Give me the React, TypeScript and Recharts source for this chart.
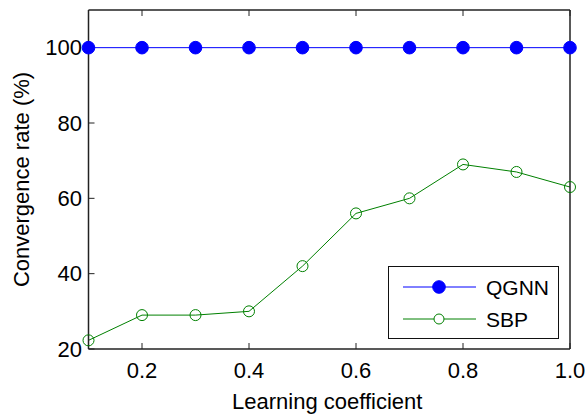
import React from 'react';
import { LineChart, Line, XAxis, YAxis, Legend } from 'recharts';

const coefficients = [0.1, 0.2, 0.3, 0.4, 0.5, 0.6, 0.7, 0.8, 0.9, 1.0];
const qgnnRates = [100, 100, 100, 100, 100, 100, 100, 100, 100, 100];
const sbpRates = [22.3, 29, 29, 30, 42, 56, 60, 69, 67, 63];
const xTicks = [0.2, 0.4, 0.6, 0.8, 1.0];
const yTicks = [20, 40, 60, 80, 100];

const data = coefficients.map((c, i) => ({ c, QGNN: qgnnRates[i], SBP: sbpRates[i] }));

const FONT = '"Liberation Sans", Arial, Helvetica, sans-serif';
const AX = '#222222';
const BLUE = '#0000ff';
const GREEN = '#008000';
const FS = 22;

const LegendBox = () => (
  <div
    style={{
      width: 171,
      height: 73,
      border: '1.5px solid #111',
      boxSizing: 'border-box',
      background: '#fff',
      position: 'relative',
      fontFamily: FONT,
    }}
  >
    <svg width={168} height={70} style={{ position: 'absolute', left: 0, top: 0 }}>
      <line x1={14} x2={87} y1={20} y2={20} stroke={BLUE} strokeWidth={1} />
      <circle cx={50} cy={20} r={6.3} fill={BLUE} stroke={BLUE} />
      <line x1={14} x2={87} y1={52} y2={52} stroke={GREEN} strokeWidth={1} />
      <circle cx={50} cy={52} r={5} fill="#fff" stroke={GREEN} strokeWidth={1} />
      <text x={97} y={28} fontSize={21} fill="#000" fontFamily={FONT}>QGNN</text>
      <text x={97} y={60} fontSize={21} fill="#000" fontFamily={FONT}>SBP</text>
    </svg>
  </div>
);

export default function App() {
  return (
    <div style={{ position: 'absolute', left: 0, top: 0, width: 585, height: 414, background: '#fff' }}>
      <LineChart
        width={585}
        height={414}
        data={data}
        margin={{ top: 0, right: 0, bottom: 0, left: 0 }}
        style={{ fontFamily: FONT }}
      >
        <XAxis
          xAxisId="b"
          dataKey="c"
          type="number"
          domain={[0.1, 1.0]}
          ticks={xTicks}
          tickFormatter={(v: number) => v.toFixed(1)}
          orientation="bottom"
          height={65}
          tickSize={-6}
          tickMargin={19}
          tick={{ fontSize: FS, fill: '#000', fontFamily: FONT }}
          axisLine={{ stroke: AX, strokeWidth: 1.5 }}
          tickLine={{ stroke: AX, strokeWidth: 1 }}
          allowDecimals
          label={(props: any) => {
            const vb = props.viewBox;
            return (
              <text
                x={vb.x + vb.width / 2 - 2}
                y={vb.y + 60}
                textAnchor="middle"
                fontSize={FS}
                fill="#000"
                fontFamily={FONT}
              >
                Learning coefficient
              </text>
            );
          }}
        />
        <XAxis
          xAxisId="t"
          dataKey="c"
          type="number"
          domain={[0.1, 1.0]}
          ticks={xTicks}
          orientation="top"
          height={10}
          tickSize={-6}
          tickFormatter={() => ''}
          axisLine={{ stroke: AX, strokeWidth: 1.5 }}
          tickLine={{ stroke: AX, strokeWidth: 1 }}
        />
        <YAxis
          yAxisId="l"
          type="number"
          domain={[20, 110]}
          ticks={yTicks}
          width={88.5}
          tickSize={-6}
          tickMargin={12.5}
          tick={{ fontSize: FS, fill: '#000', fontFamily: FONT }}
          axisLine={{ stroke: AX, strokeWidth: 1.5 }}
          tickLine={{ stroke: AX, strokeWidth: 1 }}
          label={(props: any) => {
            const vb = props.viewBox;
            const cx = vb.x + 21;
            const cy = vb.y + vb.height / 2;
            return (
              <text
                x={cx}
                y={cy}
                transform={`rotate(-90 ${cx} ${cy})`}
                textAnchor="middle"
                dominantBaseline="central"
                fontSize={FS}
                fill="#000"
                fontFamily={FONT}
              >
                Convergence rate (%)
              </text>
            );
          }}
        />
        <YAxis
          yAxisId="r"
          type="number"
          orientation="right"
          domain={[20, 110]}
          ticks={yTicks}
          width={15}
          tickSize={-6}
          tickFormatter={() => ''}
          axisLine={{ stroke: AX, strokeWidth: 1.5 }}
          tickLine={{ stroke: AX, strokeWidth: 1 }}
        />
        <Legend
          layout="horizontal"
          verticalAlign="middle"
          align="center"
          wrapperStyle={{ position: 'absolute', left: 388, top: 266, width: 171, height: 73 }}
          content={() => <LegendBox />}
        />
        <Line
          xAxisId="b"
          yAxisId="l"
          dataKey="QGNN"
          stroke={BLUE}
          strokeWidth={1}
          dot={{ r: 6.3, fill: BLUE, stroke: BLUE, strokeWidth: 1 }}
          isAnimationActive={false}
        />
        <Line
          xAxisId="b"
          yAxisId="l"
          dataKey="SBP"
          stroke={GREEN}
          strokeWidth={1}
          dot={{ r: 5.5, fill: 'none', stroke: GREEN, strokeWidth: 1 }}
          isAnimationActive={false}
        />
      </LineChart>
    </div>
  );
}
